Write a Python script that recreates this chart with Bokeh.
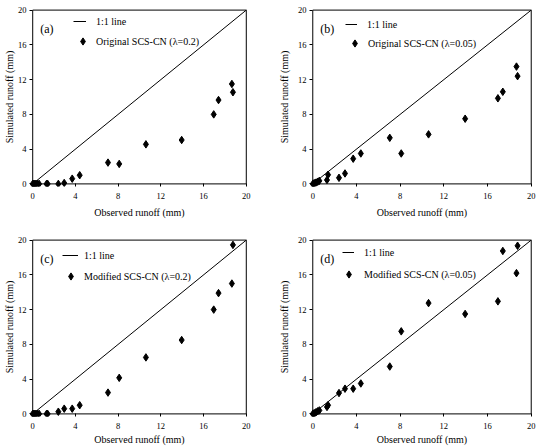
from bokeh.plotting import figure
from bokeh.layouts import column, row
from bokeh.models import Range1d, FixedTicker, Label, Legend, LegendItem
from bokeh.embed import file_html
from bokeh.resources import INLINE

# Observed runoff events (mm), shared by all four panels
observed = [0.0, 0.1, 0.2, 0.3, 0.45, 0.6, 1.3, 1.4, 2.4, 2.95,
            3.7, 4.4, 7.05, 8.1, 10.6, 13.95, 16.95, 17.4, 18.65, 18.75]

# Simulated runoff (mm) for each model variant
original_l02 = [0, 0, 0, 0, 0, 0, 0, 0, 0, 0.1,
                0.6, 1.0, 2.45, 2.3, 4.55, 5.05, 8.0, 9.65, 11.5, 10.55]
original_l005 = [0, 0.05, 0.1, 0.15, 0.25, 0.35, 0.45, 1.05, 0.7, 1.2,
                 2.9, 3.5, 5.3, 3.5, 5.7, 7.5, 9.85, 10.6, 13.5, 12.4]
modified_l02 = [0, 0, 0, 0, 0, 0, 0, 0, 0.25, 0.6,
                0.6, 1.0, 2.45, 4.15, 6.5, 8.5, 12.0, 13.9, 15.0, 19.45]
modified_l005 = [0, 0.05, 0.1, 0.2, 0.3, 0.4, 0.8, 1.0, 2.4, 2.9,
                 2.9, 3.5, 5.45, 9.5, 12.75, 11.5, 12.95, 18.75, 16.2, 19.35]

series_labels = ["Original SCS-CN (\u03bb=0.2)", "Original SCS-CN (\u03bb=0.05)",
                 "Modified SCS-CN (\u03bb=0.2)", "Modified SCS-CN (\u03bb=0.05)"]
panel_tags = ["(a)", "(b)", "(c)", "(d)"]
x_title = "Observed runoff (mm)"
y_title = "Simulated runoff (mm)"

# 1:1 reference line end points and the axis box
one_to_one = [0, 20]
ticks = [0, 4, 8, 12, 16, 20]
axis_min, axis_max = 0, 20
box_x = [axis_min, axis_min, axis_max, axis_max, axis_min]
box_y = [axis_min, axis_max, axis_max, axis_min, axis_min]
pad = 0.3  # small margin around the box so markers on it are not clipped

FONT = "Liberation Serif"
FRAME_W = 225
FRAME_H = 179
ROW_H = 18
MARK_W = 19


def legend_box(item, x, center, glyph_w, standoff):
    return Legend(items=[item],
                  location=(int(round(x)), int(round(FRAME_H - (center - ROW_H / 2) - ROW_H))),
                  glyph_width=int(round(glyph_w)), glyph_height=ROW_H, label_height=ROW_H,
                  label_standoff=int(round(standoff)), spacing=0, padding=0, margin=0,
                  border_line_color=None, background_fill_alpha=0,
                  label_text_font=FONT, label_text_font_size="10px",
                  label_text_color="black")


def make_panel(tag, sim, label, left, right, top, bottom, ylab_gap, xlab_gap,
               line_x, line_w, text1_x, row1, mark_x, text2_x, row2):
    p = figure(width=left + FRAME_W + right, height=top + FRAME_H + bottom,
               x_range=Range1d(axis_min - pad, axis_max + pad),
               y_range=Range1d(axis_min - pad, axis_max + pad),
               output_backend="svg", toolbar_location=None,
               min_border_left=left, min_border_right=right,
               min_border_top=top, min_border_bottom=bottom)
    p.outline_line_color = None
    p.grid.visible = False
    p.background_fill_color = "white"
    p.border_fill_color = "white"

    for ax in (p.xaxis[0], p.yaxis[0]):
        ax.ticker = FixedTicker(ticks=ticks)
        ax.axis_line_color = None
        ax.major_tick_line_color = "black"
        ax.major_tick_in = 3
        ax.major_tick_out = 0
        ax.minor_tick_line_color = None
        ax.major_label_text_font = FONT
        ax.major_label_text_font_size = "8.5px"
        ax.major_label_text_color = "black"
        ax.axis_label_text_font = FONT
        ax.axis_label_text_font_size = "10px"
        ax.axis_label_text_font_style = "normal"
        ax.axis_label_text_color = "black"
    p.xaxis.major_label_standoff = 6
    p.yaxis.major_label_standoff = 3
    p.xaxis.axis_label = x_title
    p.yaxis.axis_label = y_title
    p.xaxis.axis_label_standoff = xlab_gap
    p.yaxis.axis_label_standoff = ylab_gap

    p.line(box_x, box_y, line_color="black", line_width=1)
    line_r = p.line(one_to_one, one_to_one, line_color="black", line_width=1)
    pts_r = p.scatter(observed, sim, marker="diamond", size=7.5,
                      fill_color="black", line_color="black")

    # legend rows, positioned in frame pixels
    p.add_layout(legend_box(LegendItem(label="1:1 line", renderers=[line_r]),
                            line_x, row1, line_w, text1_x - line_x - line_w))
    p.add_layout(legend_box(LegendItem(label=label, renderers=[pts_r]),
                            mark_x - MARK_W / 2, row2, MARK_W,
                            text2_x - mark_x - MARK_W / 2))

    p.add_layout(Label(x=0, y=20, x_offset=7.5, y_offset=-19, text=tag,
                       text_font=FONT, text_font_size="12px", text_color="black",
                       text_align="left", text_baseline="middle"))
    return p


pa = make_panel(panel_tags[0], original_l02, series_labels[0],
                24, 19, 7, 37, 0, 5, 44, 13, 67, 14, 54, 67, 34)
pb = make_panel(panel_tags[1], original_l005, series_labels[1],
                41, 2, 7, 37, 5, 5, 36, 12, 58, 17, 45, 58, 36)
pc = make_panel(panel_tags[2], modified_l02, series_labels[2],
                24, 19, 14, 31, 0, 2, 33, 16, 55, 18, 42, 55, 39)
pd = make_panel(panel_tags[3], modified_l005, series_labels[3],
                41, 2, 14, 31, 5, 2, 33, 12, 55, 15, 40, 55, 37)

layout = column(row(pa, pb), row(pc, pd))

open("out.html", "w").write(file_html(layout, INLINE))
